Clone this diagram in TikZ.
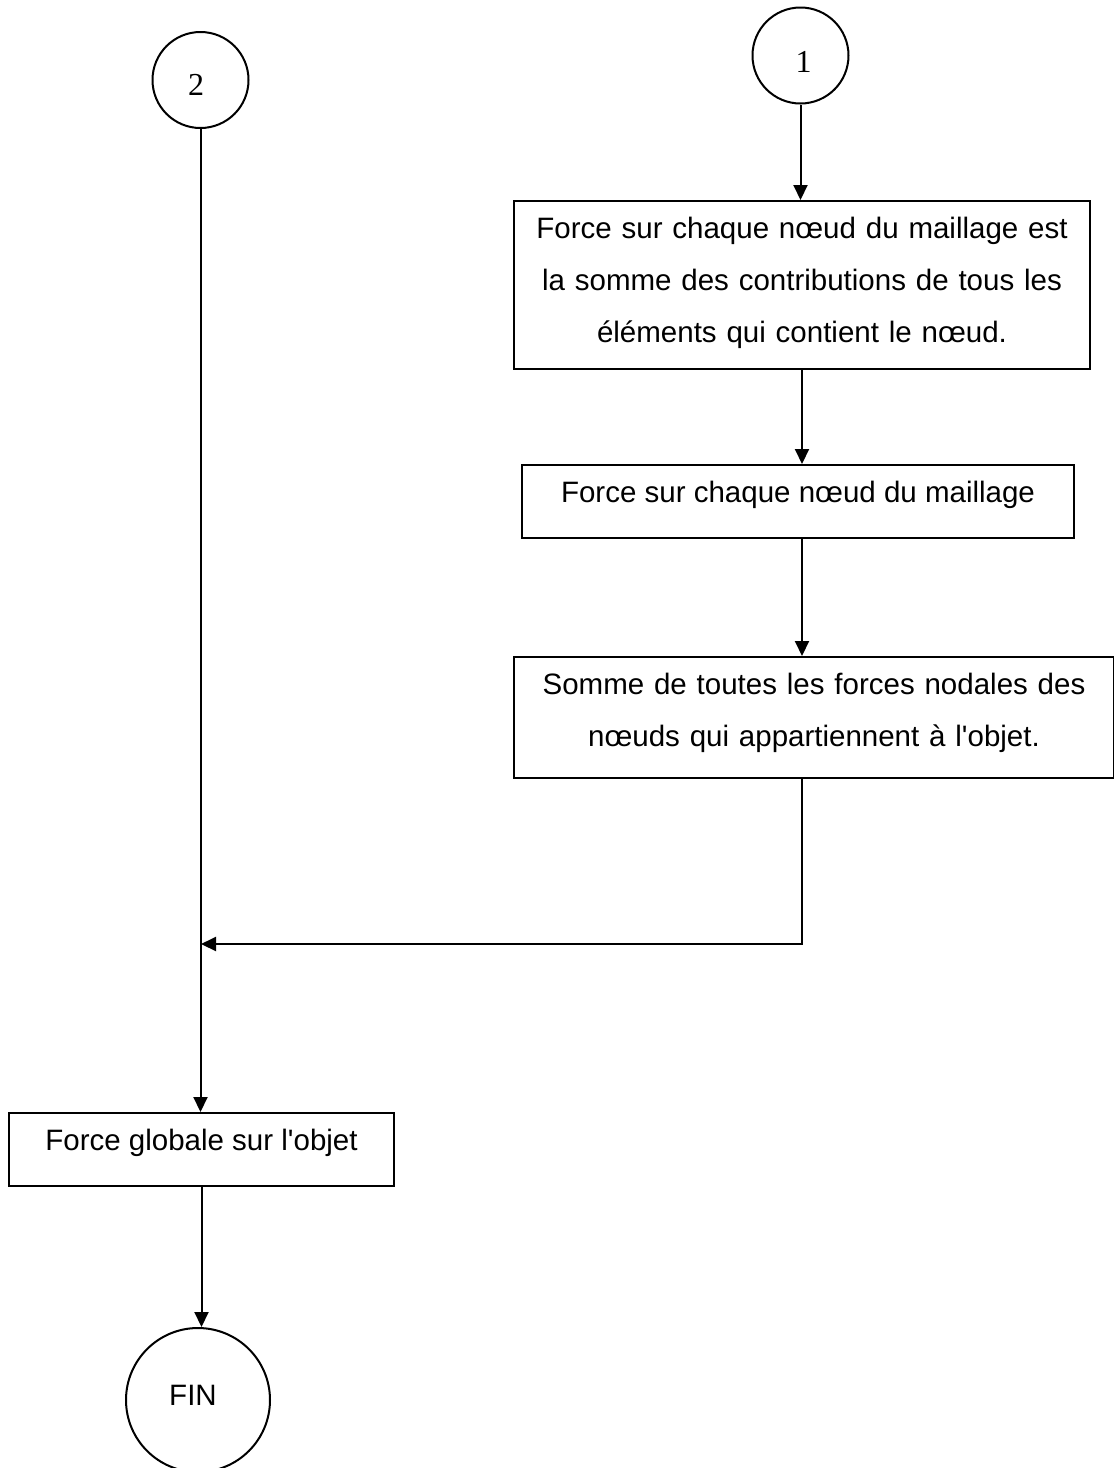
\documentclass[tikz,border=0pt]{standalone}
\usepackage{fontspec}
\setmainfont{Liberation Sans}[Ligatures=TeXOff]
\newfontfamily\serifnum{Liberation Serif}
\usetikzlibrary{arrows.meta,calc}
\tikzset{
  box/.style={draw, line width=2pt, rectangle, inner sep=0pt, anchor=north west},
  txt/.style={inner sep=0pt, align=center, anchor=base, font=\fontsize{29.5}{52}\selectfont},
  conn/.style={line width=2pt, -{Triangle[length=15pt,width=14pt]}},
  circ/.style={draw, line width=2pt, circle, inner sep=0pt},
  num/.style={inner sep=0pt, anchor=base, font=\serifnum\fontsize{32}{38}\selectfont}
}
\begin{document}
\begin{tikzpicture}[x=1pt,y=-1pt]
\useasboundingbox (0,0) rectangle (1114,1468);
% circles
\node[circ, minimum size=96pt] (c2) at (200.5,80) {};
\node[num] (c2t) at (196,95) {2};
\node[circ, minimum size=96pt] (c1) at (800.5,55.5) {};
\node[num] (c1t) at (803.5,72) {1};
\node[circ, minimum size=144pt] (fin) at (198,1400) {};
\node[txt] (fint) at (193,1405) {FIN};
% boxes
\node[box, minimum width=576pt, minimum height=168pt] (b1) at (513,200) {};
\node[txt, text width=576pt] (b1t) at ($(b1.north)+(0,38)$) {Force sur chaque nœud du maillage est\\la somme des contributions de tous les\\éléments qui contient le nœud.};
\node[box, minimum width=552pt, minimum height=73pt] (b2) at (521,464) {};
\node[txt] (b2t) at ($(b2.north)+(0,38)$) {Force sur chaque nœud du maillage};
\node[box, minimum width=600pt, minimum height=121pt] (b3) at (513,656) {};
\node[txt, text width=600pt] (b3t) at ($(b3.north)+(0,38)$) {Somme de toutes les forces nodales des\\nœuds qui appartiennent à l'objet.};
\node[box, minimum width=385pt, minimum height=73pt] (b4) at (8,1112) {};
\node[txt] (b4t) at ($(b4.north)+(0,38)$) {Force globale sur l'objet};
% connectors
\coordinate (j) at (201,944);
\draw[conn] (c1.south) -- (c1.south |- b1.north);
\draw[conn] (b1.south) -- (b1.south |- b2.north);
\draw[conn] (b1.south |- b2.south) -- (b1.south |- b3.north);
\draw[conn] (b1.south |- b3.south) |- (j);
\draw[conn] (c2.south) -- (c2.south |- b4.north);
\draw[conn] (b4.south) -- (b4.south |- fin.north);
\end{tikzpicture}
\end{document}
